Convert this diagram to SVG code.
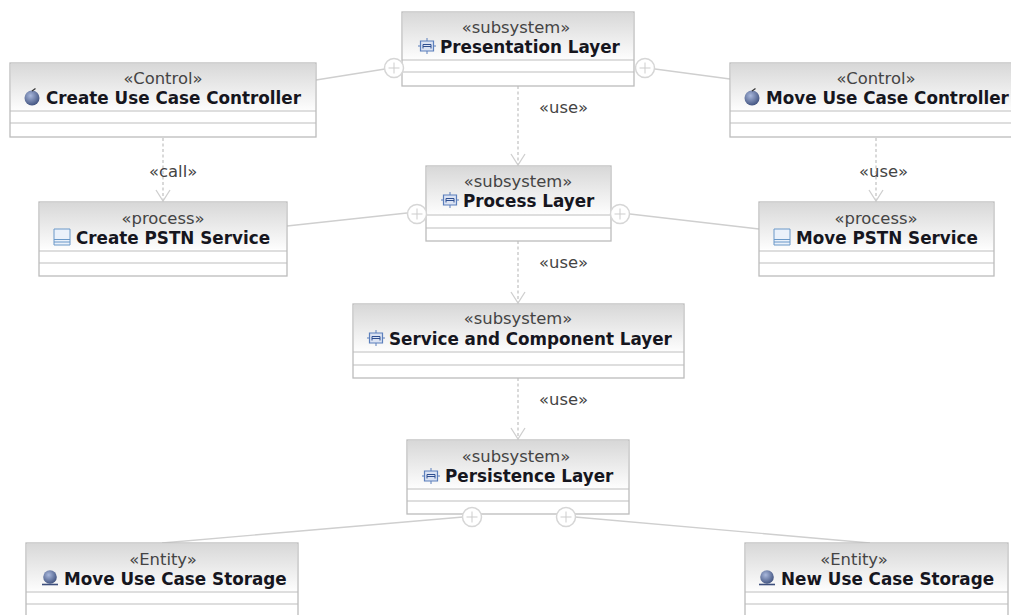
<svg xmlns="http://www.w3.org/2000/svg" xmlns:xlink="http://www.w3.org/1999/xlink" width="1011" height="615" viewBox="0 0 1011 615">
<style>
.box{fill:#fff;stroke:#bcbcbc;stroke-width:1.3}
.head{fill:url(#hg)}
.sep{stroke:#bdbdbd;stroke-width:1.2;fill:none}
.st{font-family:"DejaVu Sans",Verdana,sans-serif;font-size:16.400px;fill:#444;text-anchor:middle}
.nm{font-family:"DejaVu Sans",Verdana,sans-serif;font-size:16.800px;font-weight:bold;fill:#16161e}
.lb{font-family:"DejaVu Sans",Verdana,sans-serif;font-size:16.400px;fill:#444}
.ln{stroke:#cfcfcf;stroke-width:1.4;fill:none}
.dep{stroke:#bbb;stroke-width:1.1;stroke-dasharray:3 2.500;fill:none}
.ah{stroke:#cfcfcf;stroke-width:1.3;fill:none}
.pc{fill:#fff;stroke:#d6d6d6;stroke-width:1.500}
.pl{stroke:#cdcdcd;stroke-width:1;fill:none}
</style>
<defs>
<linearGradient id="hg" x1="0" y1="0" x2="0" y2="1"><stop offset="0" stop-color="#d8d8d8"/><stop offset="1" stop-color="#fdfdfd"/></linearGradient>
<radialGradient id="ball" cx="0.4" cy="0.35" r="0.7"><stop offset="0" stop-color="#a9b8dc"/><stop offset="1" stop-color="#3d4f7c"/></radialGradient>
<g id="i-sub"><path d="M-6.500-5H6.500V5H-6.500Z" fill="#dbe3f3" stroke="#5b7fbc" stroke-width="1.200"/><path d="M0-8V-5M0 5V8M-9 0H-6.500M6.500 0H9" stroke="#5b7fbc" stroke-width="1"/><path d="M-4 2.500V-1.500H4V2.500M-4 0.500H4" fill="none" stroke="#2f4f90" stroke-width="1"/></g>
<g id="i-ctl"><circle cx="0" cy="1" r="7.500" fill="url(#ball)"/><path d="M0-6L3.500-8.500" stroke="#333" stroke-width="1.200" fill="none"/></g>
<g id="i-proc"><path d="M-8-8H8V8H-8Z" fill="#eaf1fa" stroke="#6a98c8" stroke-width="1"/><path d="M-8 2.500H8M-8 5H8" stroke="#6a98c8" stroke-width="1"/></g>
<g id="i-ent"><circle cx="0" cy="-1" r="6.800" fill="url(#ball)"/><path d="M-8 6.500H8" stroke="#3d4f7c" stroke-width="1.600"/></g>
<g id="plus"><circle r="9.500" class="pc"/><path d="M-5.500 0H5.500M0-5.500V5.500" class="pl"/></g>
<marker id="open" markerUnits="userSpaceOnUse" markerWidth="14" markerHeight="18" refX="12" refY="9" orient="auto"><path d="M1 2L12 9L1 16" class="ah"/></marker>
</defs>
<g id="connectors">
<path class="ln" d="M316 80L385 69"/>
<path class="ln" d="M655 69L730 79"/>
<path class="ln" d="M287 226L407 213"/>
<path class="ln" d="M630 214L759 229"/>
<path class="ln" d="M162 543L463 517"/>
<path class="ln" d="M575 517L870 543"/>
<path class="dep" d="M518 86V165" marker-end="url(#open)"/>
<path class="dep" d="M518 241V303" marker-end="url(#open)"/>
<path class="dep" d="M518 378V439" marker-end="url(#open)"/>
<path class="dep" d="M163 138V201" marker-end="url(#open)"/>
<path class="dep" d="M876 138V201" marker-end="url(#open)"/>
<text class="lb" x="539" y="113">«use»</text>
<text class="lb" x="149" y="177">«call»</text>
<text class="lb" x="859" y="177">«use»</text>
<text class="lb" x="539" y="268">«use»</text>
<text class="lb" x="539" y="405">«use»</text>
</g>
<g id="presentation"><rect class="box" x="402" y="12" width="232" height="74"/><rect class="head" x="403" y="13" width="230" height="46"/><path class="sep" d="M402 60H634M402 72H634"/><text class="st" x="516" y="33">«subsystem»</text><use href="#i-sub" x="427" y="46"/><text class="nm" x="440" y="53">Presentation Layer</text></g>
<g id="create-controller"><rect class="box" x="10" y="63" width="306" height="74"/><rect class="head" x="11" y="64" width="304" height="46"/><path class="sep" d="M10 111H316M10 123H316"/><text class="st" x="163" y="84">«Control»</text><use href="#i-ctl" x="32" y="97"/><text class="nm" x="46" y="104">Create Use Case Controller</text></g>
<g id="move-controller"><rect class="box" x="730" y="63" width="290" height="74"/><rect class="head" x="731" y="64" width="280" height="46"/><path class="sep" d="M730 111H1011M730 123H1011"/><text class="st" x="876" y="84">«Control»</text><use href="#i-ctl" x="752" y="97"/><text class="nm" x="766" y="104">Move Use Case Controller</text></g>
<g id="create-pstn"><rect class="box" x="39" y="202" width="248" height="74"/><rect class="head" x="40" y="203" width="246" height="46"/><path class="sep" d="M39 251H287M39 263H287"/><text class="st" x="163" y="224">«process»</text><use href="#i-proc" x="62" y="237"/><text class="nm" x="76" y="244">Create PSTN Service</text></g>
<g id="move-pstn"><rect class="box" x="759" y="202" width="235" height="74"/><rect class="head" x="760" y="203" width="233" height="46"/><path class="sep" d="M759 251H994M759 263H994"/><text class="st" x="876" y="224">«process»</text><use href="#i-proc" x="782" y="237"/><text class="nm" x="796" y="244">Move PSTN Service</text></g>
<g id="process"><rect class="box" x="426" y="166" width="185" height="75"/><rect class="head" x="427" y="167" width="183" height="47"/><path class="sep" d="M426 215H611M426 228H611"/><text class="st" x="518" y="187">«subsystem»</text><use href="#i-sub" x="450" y="200"/><text class="nm" x="463" y="207">Process Layer</text></g>
<g id="service"><rect class="box" x="353" y="304" width="331" height="74"/><rect class="head" x="354" y="305" width="329" height="46"/><path class="sep" d="M353 352H684M353 365H684"/><text class="st" x="518" y="324">«subsystem»</text><use href="#i-sub" x="376" y="338"/><text class="nm" x="389" y="345">Service and Component Layer</text></g>
<g id="persistence"><rect class="box" x="407" y="440" width="222" height="74"/><rect class="head" x="408" y="441" width="220" height="47"/><path class="sep" d="M407 489H629M407 501H629"/><text class="st" x="516" y="462">«subsystem»</text><use href="#i-sub" x="431" y="476"/><text class="nm" x="445" y="482">Persistence Layer</text></g>
<g id="move-storage"><rect class="box" x="26" y="543" width="272" height="80"/><rect class="head" x="27" y="544" width="270" height="47"/><path class="sep" d="M26 592H298M26 604H298"/><text class="st" x="163" y="565">«Entity»</text><use href="#i-ent" x="50" y="578"/><text class="nm" x="64" y="585">Move Use Case Storage</text></g>
<g id="new-storage"><rect class="box" x="745" y="543" width="263" height="80"/><rect class="head" x="746" y="544" width="261" height="47"/><path class="sep" d="M745 592H1008M745 604H1008"/><text class="st" x="854" y="565">«Entity»</text><use href="#i-ent" x="767" y="578"/><text class="nm" x="781" y="585">New Use Case Storage</text></g>
<g id="ports">
<use href="#plus" x="394" y="68"/>
<use href="#plus" x="645" y="68"/>
<use href="#plus" x="417" y="214"/>
<use href="#plus" x="620" y="214"/>
<use href="#plus" x="472" y="517"/>
<use href="#plus" x="566" y="517"/>
</g>
</svg>
